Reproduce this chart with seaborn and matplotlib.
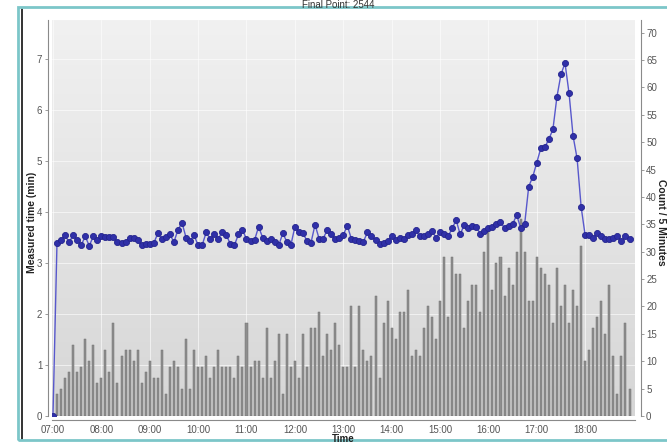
import numpy as np
import matplotlib
matplotlib.use("Agg")
import matplotlib.pyplot as plt
from matplotlib.colors import LinearSegmentedColormap
from matplotlib.patches import Rectangle
from matplotlib.lines import Line2D
import seaborn as sns


# counts per 5-minute bucket, 07:05 .. 18:55
counts = [
    4, 5, 7, 8, 13, 8, 9, 14, 10, 13, 6, 7, 12, 8, 17, 6, 11, 12, 12, 10, 12, 6, 8, 10, 7, 7, 12, 4, 9, 10, 9, 5, 14, 5, 12,
    9, 9, 11, 7, 9, 12, 9, 9, 9, 7, 11, 9, 17, 9, 10, 10, 7, 16, 7, 10, 15, 4, 15, 9, 10, 7, 15, 9, 16, 16, 19, 11, 15, 12, 17, 13,
    9, 9, 20, 9, 20, 12, 10, 11, 22, 7, 17, 21, 16, 14, 19, 19, 23, 11, 12, 11, 16, 20, 18, 14, 21, 29, 18, 29, 26, 26, 16, 21, 24, 24, 19, 30,
    34, 23, 28, 29, 22, 27, 24, 30, 36, 30, 21, 21, 29, 27, 26, 24, 17, 27, 20, 24, 17, 23, 20, 31, 10, 12, 16, 18, 21, 15, 24, 11, 4, 11, 17, 5,
]

# measured time (min), 07:00 .. 18:55
measured = [
    0.0,
    3.40, 3.45, 3.54, 3.41, 3.54, 3.45, 3.35, 3.52, 3.34, 3.52, 3.45, 3.52, 3.51, 3.51, 3.51, 3.42, 3.40, 3.42,
    3.50, 3.50, 3.46, 3.35, 3.37, 3.37, 3.39, 3.58, 3.48, 3.51, 3.56, 3.41, 3.65, 3.79, 3.50, 3.43, 3.54, 3.35,
    3.35, 3.60, 3.47, 3.56, 3.48, 3.60, 3.55, 3.37, 3.35, 3.56, 3.65, 3.47, 3.44, 3.45, 3.71, 3.50, 3.44, 3.47,
    3.41, 3.35, 3.58, 3.42, 3.35, 3.71, 3.60, 3.59, 3.43, 3.40, 3.75, 3.48, 3.48, 3.64, 3.57, 3.47, 3.50,
    3.55, 3.73, 3.48, 3.45, 3.43, 3.42, 3.60, 3.52, 3.45, 3.37, 3.39, 3.43, 3.52, 3.45, 3.50, 3.48, 3.54, 3.57,
    3.64, 3.52, 3.52, 3.56, 3.63, 3.50, 3.60, 3.57, 3.52, 3.68, 3.84, 3.56, 3.75, 3.69, 3.72, 3.71, 3.57, 3.62,
    3.68, 3.71, 3.76, 3.81, 3.68, 3.72, 3.76, 3.94, 3.69, 3.77,
    4.50, 4.69, 4.97, 5.25, 5.27, 5.43, 5.62, 6.26, 6.70, 6.92, 6.33, 5.49, 5.05, 4.10, 3.54,
    3.54, 3.49, 3.59, 3.53, 3.48, 3.48, 3.49, 3.52, 3.43, 3.52, 3.47,
]

hour_ticks = list(range(7, 19))
hour_labels = ["07:00", "08:00", "09:00", "10:00", "11:00", "12:00",
               "13:00", "14:00", "15:00", "16:00", "17:00", "18:00"]

# x positions in hours, one per 5 minutes
times = 7 + np.arange(len(measured)) * 5 / 60
bar_times = times[1:]

X_MIN, X_MAX = 6.98, 19.03
LEFT_MAX = 7.765
RIGHT_MAX = 72.3

sns.set_theme(style="white")
plt.rcParams["font.family"] = ["Liberation Sans", "DejaVu Sans"]

fig = plt.figure(figsize=(6.67, 4.43), dpi=100)
pos = [52 / 667, 27 / 443, 583 / 667, 396 / 443]

# background gradient + grid
bg = fig.add_axes(pos, zorder=0)
grad_cmap = LinearSegmentedColormap.from_list("bg", ["#d6d6d6", "#f1f1f1"])
bg.imshow(np.linspace(0, 1, 256)[:, None], aspect="auto", cmap=grad_cmap,
          origin="lower", extent=[X_MIN, X_MAX, 0, LEFT_MAX])
bg.set_xlim(X_MIN, X_MAX)
bg.set_ylim(0, LEFT_MAX)
bg.set_xticks(hour_ticks)
bg.set_yticks(range(0, 8))
bg.grid(True, color="white", linewidth=0.7, alpha=0.6)
bg.tick_params(length=0, labelbottom=False, labelleft=False)
for s in bg.spines.values():
    s.set_visible(False)

# bars on right axis
ax_bar = fig.add_axes(pos, zorder=1)
ax_bar.patch.set_alpha(0)
sns.barplot(x=bar_times, y=counts, native_scale=True, ax=ax_bar,
            color="#8e8e8e", edgecolor="#727272", linewidth=0.35,
            width=0.5, saturation=1)

# measured time line on left axis
ax_line = ax_bar.twinx()
sns.lineplot(x=times, y=measured, ax=ax_line, color="#5858cc", linewidth=1.0,
             marker="o", markersize=4.4, markerfacecolor="#3030a8",
             markeredgecolor="#25258e", markeredgewidth=0.6)

ax_bar.set_xlim(X_MIN, X_MAX)
ax_bar.set_ylim(0, RIGHT_MAX)
ax_line.set_ylim(0, LEFT_MAX)

ax_bar.yaxis.tick_right()
ax_bar.yaxis.set_label_position("right")
ax_line.yaxis.tick_left()
ax_line.yaxis.set_label_position("left")

ax_bar.set_xticks(hour_ticks)
ax_bar.set_xticklabels(hour_labels)
ax_bar.set_yticks(range(0, 71, 5))
ax_line.set_yticks(range(0, 8))

axis_color = "#8a8a8a"
for s in ["top", "left"]:
    ax_bar.spines[s].set_visible(False)
for s in ["top", "right", "bottom"]:
    ax_line.spines[s].set_visible(False)
ax_bar.spines["bottom"].set_position(("outward", 3))
ax_bar.spines["right"].set_position(("outward", 4))
ax_line.spines["left"].set_position(("outward", 3))
for sp in [ax_bar.spines["bottom"], ax_bar.spines["right"], ax_line.spines["left"]]:
    sp.set_color(axis_color)
    sp.set_linewidth(0.8)

ax_bar.tick_params(axis="both", which="both", length=2, width=0.6, color=axis_color,
                   labelsize=7, labelcolor="#555555", pad=1.5)
ax_line.tick_params(axis="y", length=2, width=0.6, color=axis_color,
                    labelsize=7, labelcolor="#555555", pad=2)
ax_bar.tick_params(axis="y", left=False, labelleft=False, right=True, labelright=True, pad=2)
ax_line.tick_params(axis="y", right=False, labelright=False, left=True, labelleft=True)

ax_bar.set_xlabel("")
ax_bar.set_ylabel("")
ax_line.set_xlabel("")
ax_line.set_ylabel("")

fig.text(32 / 667, 1 - 222 / 443, "Measured time (min)", rotation=90,
         ha="center", va="center", fontsize=7.5, fontweight="bold", color="#222222")
fig.text(661 / 667, 1 - 222 / 443, "Count / 5 Minutes", rotation=270,
         ha="center", va="center", fontsize=7.5, fontweight="bold", color="#222222")
fig.text(343 / 667, 1 - 438.5 / 443, "Time", ha="center", va="center",
         fontsize=7, fontweight="bold", color="#222222")
fig.text(338 / 667, 1 - 5 / 443, "Final Point: 2544", ha="center", va="center",
         fontsize=7, color="#333333")

# screenshot frame
fig.patches.append(Rectangle((18 / 667, 3 / 443), 1.0, 433 / 443, transform=fig.transFigure,
                             fill=False, edgecolor="#7cc6c9", linewidth=2.0, zorder=0))
fig.lines.append(Line2D([21.5 / 667, 21.5 / 667], [4 / 443, 434 / 443], transform=fig.transFigure,
                        color="#111111", linewidth=1.2, zorder=0))

fig.savefig("out.png", dpi=100)
plt.close(fig)
